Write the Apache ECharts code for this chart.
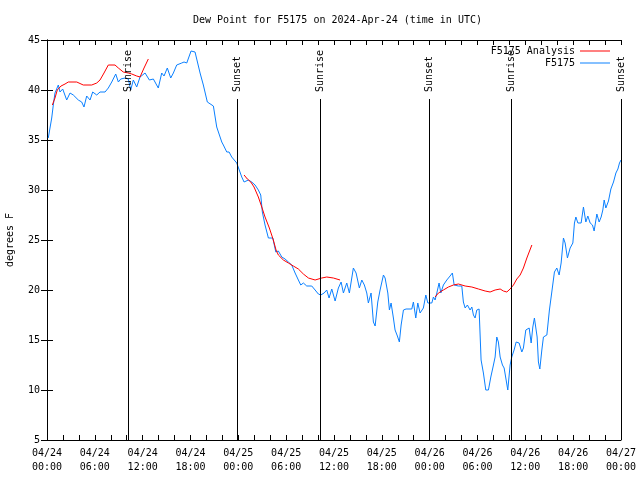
<!DOCTYPE html>
<html>
<head>
<meta charset="utf-8">
<script src="https://cdn.jsdelivr.net/npm/echarts@6/dist/echarts.min.js"></script>
<style>html,body{margin:0;padding:0;background:#fff;}#chart{width:640px;height:480px;}</style>
</head>
<body>
<div id="chart"></div>
<script>
// Hours since 2024-04-24 00:00 UTC
var xTickHours = [0, 6, 12, 18, 24, 30, 36, 42, 48, 54, 60, 66, 72];
var yTicks = [5, 10, 15, 20, 25, 30, 35, 40, 45];

var obsData = [
[0.16,35.2],[0.59,37.2],[0.79,38.5],[1.00,39.7],[1.42,40.5],[1.63,39.8],[1.97,40.1],[2.47,39.0],[2.89,39.7],[3.30,39.5],
[3.51,39.7],[3.93,39.0],[4.35,38.8],[4.64,38.3],[4.98,39.4],[5.40,39.0],[5.73,39.8],[6.24,39.5],[6.65,39.8],[7.28,39.8],
[7.69,40.2],[8.12,40.8],[8.62,41.6],[8.95,40.8],[9.25,41.1],[9.79,41.2],[10.20,41.1],[10.50,40.0],[10.83,41.0],[11.25,40.3],
[11.67,41.3],[12.30,41.7],[12.84,41.0],[13.34,41.1],[13.96,40.2],[14.39,41.7],[14.68,41.4],[15.09,42.2],[15.52,41.2],[15.85,41.7],
[16.27,42.5],[16.90,42.7],[17.19,42.8],[17.53,42.7],[17.78,42.5],[18.07,43.9],[18.57,43.8],[18.78,43.7],[19.20,41.7],[19.61,40.5],
[20.11,38.8],[20.87,38.4],[21.29,36.3],[21.92,34.8],[22.12,34.5],[22.55,33.8],[22.84,33.8],[23.17,33.3],[23.80,32.7],[24.43,31.3],
[24.72,30.8],[25.26,31.0],[25.68,30.8],[26.10,30.5],[26.51,30.0],[26.81,29.5],[27.01,27.8],[27.35,26.5],[27.77,25.2],[27.98,25.0],
[28.32,25.2],[28.70,23.8],[29.02,23.9],[29.45,23.3],[29.86,23.1],[30.28,22.8],[30.70,22.5],[31.12,21.7],[31.53,21.0],[31.83,20.5],
[32.16,20.7],[32.58,20.4],[33.21,20.4],[33.63,20.0],[34.04,19.6],[34.34,19.5],[34.76,19.7],[35.09,20.0],[35.38,19.2],[35.72,20.1],
[36.14,18.9],[36.55,20.2],[36.89,20.8],[37.18,19.7],[37.60,20.7],[37.93,19.7],[38.43,22.2],[38.77,21.7],[39.18,20.2],[39.49,21.0],
[39.81,20.5],[40.11,19.7],[40.31,18.7],[40.65,19.7],[40.94,16.8],[41.16,16.4],[41.49,18.8],[41.78,20.0],[41.99,20.1],[42.20,21.5],
[42.41,21.2],[42.75,19.7],[42.95,18.0],[43.16,18.7],[43.45,17.2],[43.66,16.0],[43.95,15.4],[44.20,14.8],[44.42,16.5],[44.71,18.0],
[45.04,18.1],[45.76,18.1],[45.96,18.8],[46.26,17.2],[46.51,18.7],[46.80,17.7],[47.21,18.2],[47.52,19.5],[47.77,18.7],[48.27,18.7],
[48.47,19.3],[48.68,19.0],[48.90,19.7],[49.18,20.7],[49.40,19.7],[49.72,20.5],[50.15,21.0],[50.56,21.4],[50.85,21.7],[51.07,20.5],
[51.61,20.4],[52.03,20.4],[52.23,18.8],[52.45,18.2],[52.73,18.5],[53.07,18.0],[53.29,18.3],[53.49,17.5],[53.70,17.2],[53.91,18.0],
[54.20,18.1],[54.45,13.0],[54.74,11.7],[55.04,10.0],[55.37,10.0],[55.67,11.3],[56.00,12.5],[56.21,13.3],[56.42,15.3],[56.62,14.8],
[56.84,13.3],[57.13,12.5],[57.34,12.2],[57.55,11.2],[57.80,10.0],[58.09,12.5],[58.30,13.3],[58.59,14.0],[58.85,14.8],[59.22,14.7],
[59.56,13.8],[59.76,14.2],[60.06,16.0],[60.31,15.8],[60.48,16.2],[60.73,14.7],[60.94,16.3],[61.14,17.2],[61.32,17.3],[61.48,15.3],
[61.64,12.8],[61.82,12.1],[62.07,14.0],[62.27,15.3],[62.70,15.5],[63.02,18.0],[63.32,19.8],[63.65,21.8],[63.95,22.2],[64.24,21.5],
[64.49,22.7],[64.78,25.2],[64.99,24.7],[65.28,23.2],[65.62,24.2],[65.96,24.7],[66.16,26.7],[66.34,27.3],[66.59,26.7],[67.00,26.7],
[67.29,28.3],[67.59,26.8],[67.84,27.4],[68.13,26.7],[68.42,26.5],[68.63,25.9],[68.97,27.6],[69.26,26.8],[69.51,27.3],[69.72,28.0],
[69.89,29.0],[70.10,28.2],[70.43,28.9],[70.73,30.1],[71.06,30.8],[71.36,31.7],[71.61,32.1],[71.81,32.7],[72.00,33.0]
];

var analysisSeg1 = [
[0.67,38.5],[1.00,39.2],[1.29,40.0],[1.76,40.4],[2.26,40.6],[2.67,40.8],[3.73,40.8],[4.55,40.5],[5.61,40.5],[6.24,40.7],
[6.65,41.0],[7.15,41.7],[7.69,42.5],[8.53,42.5],[8.95,42.2],[9.57,41.8],[10.20,41.7],[10.63,41.6],[11.25,41.4],[11.67,41.3],
[12.17,42.2],[12.71,43.1]
];
var analysisSeg2 = [
[24.72,31.5],[25.13,31.1],[25.56,30.8],[25.97,30.3],[26.51,29.3],[26.94,28.3],[27.35,27.3],[27.89,26.2],[28.39,25.0],[28.73,24.0],
[29.02,23.5],[29.65,23.0],[30.28,22.7],[30.90,22.4],[31.53,22.1],[32.16,21.6],[32.79,21.2],[33.63,21.0],[34.47,21.2],[35.09,21.3],
[35.92,21.2],[36.76,21.0]
];
var analysisSeg3 = [
[48.68,19.3],[49.10,19.7],[49.72,20.0],[50.35,20.3],[50.98,20.5],[51.61,20.6],[52.45,20.4],[53.29,20.3],[54.12,20.1],[54.96,19.9],
[55.58,19.8],[56.21,20.0],[56.84,20.1],[57.25,19.9],[57.68,19.8],[58.09,20.1],[58.51,20.5],[58.93,21.1],[59.35,21.5],[59.76,22.2],
[60.19,23.2],[60.48,23.8],[60.82,24.5]
];

var sunHours = [10.16, 23.88, 34.28, 47.95, 58.22, 71.97];
var sunLabels = ['Sunrise', 'Sunset', 'Sunrise', 'Sunset', 'Sunrise', 'Sunset'];

var FONT = 'DejaVu Sans Mono';
var analysisData = analysisSeg1.concat([[18, null]], analysisSeg2, [[42, null]], analysisSeg3);

function xLabel(h) {
  var day = 24 + Math.floor(h / 24);
  var hh = h % 24;
  return '04/' + day + '\n' + (hh < 10 ? '0' : '') + hh + ':00';
}

var chart = echarts.init(document.getElementById('chart'), null, {renderer: 'canvas'});
var axisCommon = {
  type: 'value', min: 0, max: 72, interval: 6,
  axisLine: {show: true, lineStyle: {color: '#000', width: 1}},
  axisTick: {show: true, inside: true, length: 5, lineStyle: {color: '#000'}},
  minorTick: {show: true, splitNumber: 3, length: 5, lineStyle: {color: '#000'}},
  splitLine: {show: false}
};
var yCommon = {
  type: 'value', min: yTicks[0], max: yTicks[yTicks.length - 1], interval: 5,
  axisLine: {show: true, lineStyle: {color: '#000', width: 1}},
  axisTick: {show: true, inside: true, length: 6, lineStyle: {color: '#000'}},
  splitLine: {show: false}
};

chart.setOption({
  animation: false,
  backgroundColor: '#fff',
  title: {
    text: 'Dew Point for F5175 on 2024-Apr-24 (time in UTC)',
    left: 188, top: 10,
    textStyle: {fontFamily: FONT, fontSize: 10, fontWeight: 'normal', color: '#000'}
  },
  legend: {
    orient: 'vertical', right: 25, top: 40, align: 'right',
    itemWidth: 30, itemHeight: 1, itemGap: 0, icon: 'rect',
    textStyle: {fontFamily: FONT, fontSize: 10, color: '#000', lineHeight: 12},
    data: [{name: 'F5175 Analysis', icon: 'rect'}, {name: 'F5175', icon: 'rect'}]
  },
  grid: {left: 47, right: 19, top: 40, bottom: 40, containLabel: false, outerBoundsMode: 'none'},
  xAxis: [
    Object.assign({}, axisCommon, {
      position: 'bottom',
      axisLabel: {show: true, margin: 6, color: '#000', fontFamily: FONT, fontSize: 10, lineHeight: 14,
        showMinLabel: true, showMaxLabel: true, formatter: function (v) { return xLabel(v); }}
    }),
    Object.assign({}, axisCommon, {position: 'top', axisLabel: {show: false}})
  ],
  yAxis: [
    Object.assign({}, yCommon, {
      position: 'left',
      name: 'degrees F', nameLocation: 'middle', nameGap: 32,
      nameTextStyle: {fontFamily: FONT, fontSize: 10, color: '#000'},
      axisLabel: {show: true, margin: 7, color: '#000', fontFamily: FONT, fontSize: 10}
    }),
    Object.assign({}, yCommon, {position: 'right', axisLabel: {show: false}})
  ],
  series: [
    {
      name: 'F5175 Analysis', type: 'line', data: analysisData,
      symbol: 'none', showSymbol: false, connectNulls: false,
      lineStyle: {color: '#ff0000', width: 1}, itemStyle: {color: '#ff0000'}, z: 3
    },
    {
      name: 'F5175', type: 'line', data: obsData,
      symbol: 'none', showSymbol: false,
      lineStyle: {color: '#0a80ff', width: 1}, itemStyle: {color: '#0a80ff'}, z: 2
    },
    {
      name: 'sun', type: 'custom', silent: true, z: 4,
      data: sunHours.map(function (h) { return [h, yTicks[0]]; }),
      renderItem: function (params, api) {
        var h = api.value(0);
        var p0 = api.coord([h, 5]);
        var p1 = api.coord([h, 39.1]);
        var pt = api.coord([h, 39.8]);
        var x = Math.round(p0[0]) + 0.5;
        return {
          type: 'group',
          children: [
            {type: 'line', shape: {x1: x, y1: p0[1], x2: x, y2: p1[1]}, style: {stroke: '#000', lineWidth: 1}},
            {type: 'text', x: x, y: pt[1], rotation: Math.PI / 2,
             style: {text: sunLabels[params.dataIndex], fill: '#000', font: '10px ' + FONT,
                     textAlign: 'left', textVerticalAlign: 'middle'}}
          ]
        };
      }
    }
  ]
});
</script>
</body>
</html>
